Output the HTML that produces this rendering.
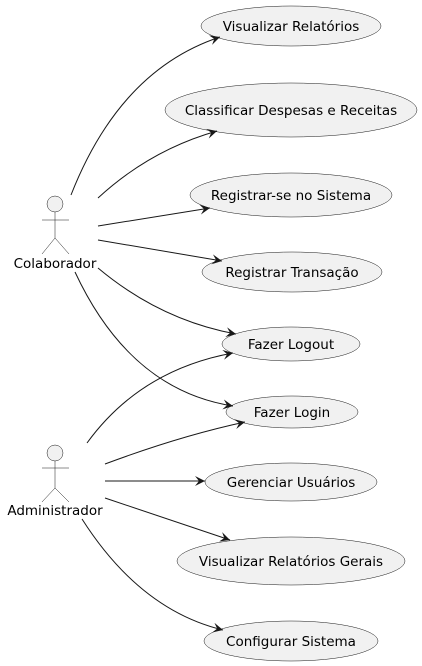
<!DOCTYPE html>
<html><head><meta charset="utf-8"><style>html,body{margin:0;padding:0;background:#fff}svg{display:block}</style></head>
<body>
<svg width="422" height="666" viewBox="0 0 422 666" xmlns="http://www.w3.org/2000/svg" font-family="'DejaVu Sans','Liberation Sans',sans-serif" font-size="13.5">
<defs>
<marker id="a" markerWidth="12" markerHeight="10" refX="10" refY="5" orient="auto" markerUnits="userSpaceOnUse">
<path d="M0,0 L10,5 L0,10 L4,5 Z" fill="#181818"/>
</marker>
</defs>
<g fill="#f1f1f1" stroke="#181818" stroke-width="0.5">
<ellipse cx="291" cy="26" rx="90" ry="20"/>
<ellipse cx="291" cy="110" rx="126" ry="27"/>
<ellipse cx="291" cy="195" rx="101" ry="22"/>
<ellipse cx="292" cy="272" rx="90" ry="20"/>
<ellipse cx="291" cy="344" rx="69" ry="17"/>
<ellipse cx="292" cy="412" rx="66" ry="16"/>
<ellipse cx="291" cy="482" rx="86" ry="19"/>
<ellipse cx="291" cy="561" rx="114" ry="24"/>
<ellipse cx="291" cy="641" rx="87" ry="20"/>
</g>
<g fill="#000" text-anchor="middle">
<text x="291" y="31">Visualizar Relatórios</text>
<text x="291" y="115">Classificar Despesas e Receitas</text>
<text x="291" y="200">Registrar-se no Sistema</text>
<text x="292" y="277">Registrar Transação</text>
<text x="291" y="349">Fazer Logout</text>
<text x="292" y="417">Fazer Login</text>
<text x="291" y="487">Gerenciar Usuários</text>
<text x="291" y="566">Visualizar Relatórios Gerais</text>
<text x="291" y="646">Configurar Sistema</text>
<text x="55" y="268">Colaborador</text>
<text x="55" y="515">Administrador</text>
</g>
<g fill="#f1f1f1" stroke="#181818" stroke-width="0.5">
<circle cx="55" cy="204" r="8"/>
<path d="M55,212 V238 M42,220 H69 M42,254 L55,238 L69,254" fill="none"/>
<circle cx="55" cy="453" r="8"/>
<path d="M55,461 V488 M42,468 H69 M42,502 L55,488 L69,502" fill="none"/>
</g>
<g fill="none" stroke="#181818" stroke-width="1" marker-end="url(#a)">
<path d="M71,195 Q120,70 220,37"/>
<path d="M98,198 Q150,150 217,131"/>
<path d="M98,226 L210,208"/>
<path d="M98,240 L222,261"/>
<path d="M98,268 Q160,320 236,334"/>
<path d="M75,272 Q130,390 233,406"/>
<path d="M87,443 Q140,370 233,353"/>
<path d="M105,464 Q180,436 245,422"/>
<path d="M105,481 L205,481"/>
<path d="M105,498 L230,540"/>
<path d="M82,519 Q140,610 223,630"/>
</g>
</svg>
</body></html>
